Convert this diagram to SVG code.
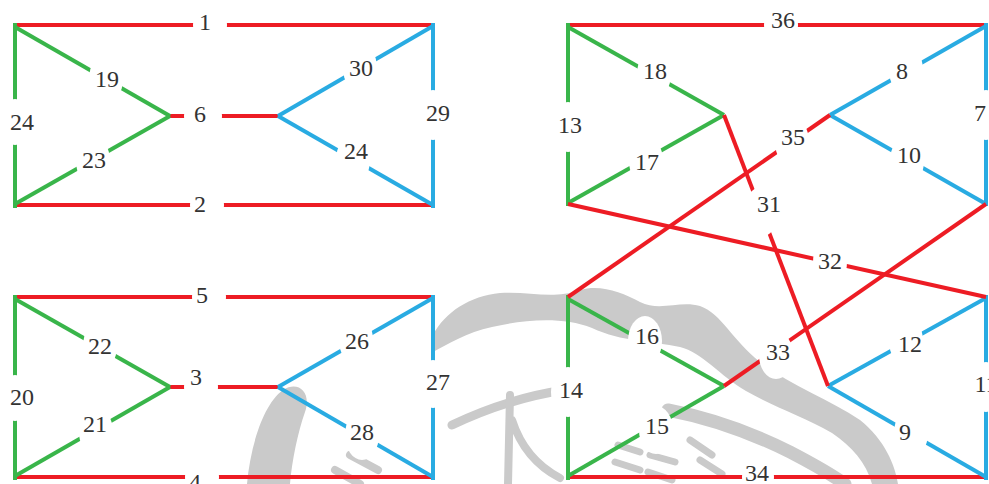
<svg xmlns="http://www.w3.org/2000/svg" width="989" height="484" viewBox="0 0 989 484">
<style>
.r{stroke:#ED1C24;stroke-width:4;fill:none}
.g{stroke:#39B54A;stroke-width:4;fill:none}
.b{stroke:#29ABE2;stroke-width:4;fill:none}
.wm{stroke:#cacaca;fill:none;stroke-linecap:round}
.wf{fill:#cacaca;stroke:none}
.lb ellipse{fill:#fff}
.lb text{font-family:"Liberation Serif","DejaVu Serif",serif;font-size:24px;fill:#333;text-anchor:middle}
</style>
<rect width="989" height="484" fill="#fff"/>
<g id="watermark">
<path class="wf" d="M247 484 C250 450 262 405 283 390 C298 380 312 392 305 412 C298 432 292 460 290 484 Z"/>
<path class="wf" d="M433 335 C445 312 470 296 500 293 C530 291 552 300 580 290 C600 284 622 292 640 302 C660 312 680 300 700 306 C722 314 732 340 760 362 C790 385 830 400 860 420 C885 440 895 465 898 484 L872 484 C866 462 852 447 832 433 C802 416 772 406 746 391 C720 376 702 352 680 347 C652 341 622 342 592 328 C562 316 522 320 492 327 C467 332 447 345 433 352 Z"/>
<path class="wm" stroke-width="9" d="M452 425 C490 407 530 395 565 390"/>
<path class="wm" stroke-width="13" d="M668 410 C710 418 750 432 790 452 C815 465 832 475 845 484"/>
<path class="wm" stroke-width="8" d="M510 395 L508 484 M512 420 C520 445 535 465 560 478"/>
<path class="wm" stroke-width="8" d="M335 470 L360 484 M350 455 L378 470"/>
<path class="wm" stroke-width="7" d="M618 445 L640 452 M615 462 L640 470 M650 455 L675 462 M648 472 L672 480 M690 440 L712 455 M700 460 L722 474"/>
</g>
<g id="connectors">
<line class="r" x1="15" y1="25" x2="433" y2="25"/>
<line class="r" x1="15" y1="205" x2="433" y2="205"/>
<line class="r" x1="170" y1="116" x2="278" y2="116"/>
<line class="g" x1="15" y1="23" x2="15" y2="208"/>
<line class="g" x1="15" y1="27" x2="170" y2="116"/>
<line class="g" x1="15" y1="204" x2="170" y2="116"/>
<line class="b" x1="278" y1="116" x2="433" y2="26"/>
<line class="b" x1="278" y1="116" x2="433" y2="205"/>
<line class="b" x1="433" y1="23" x2="433" y2="208"/>

<line class="r" x1="15" y1="297" x2="433" y2="297"/>
<line class="r" x1="15" y1="477" x2="433" y2="477"/>
<line class="r" x1="170" y1="387" x2="278" y2="387"/>
<line class="g" x1="15" y1="295" x2="15" y2="480"/>
<line class="g" x1="15" y1="299" x2="170" y2="387"/>
<line class="g" x1="15" y1="476" x2="170" y2="387"/>
<line class="b" x1="278" y1="387" x2="433" y2="298"/>
<line class="b" x1="278" y1="387" x2="433" y2="477"/>
<line class="b" x1="433" y1="295" x2="433" y2="480"/>

<line class="r" x1="568" y1="25" x2="986" y2="25"/>
<line class="g" x1="568" y1="23" x2="568" y2="206"/>
<line class="g" x1="568" y1="27" x2="724" y2="115"/>
<line class="g" x1="568" y1="203" x2="724" y2="115"/>
<line class="b" x1="830" y1="115" x2="986" y2="26"/>
<line class="b" x1="830" y1="115" x2="986" y2="204"/>
<line class="b" x1="986" y1="23" x2="986" y2="206"/>

<line class="r" x1="568" y1="477" x2="986" y2="477"/>
<line class="g" x1="568" y1="295" x2="568" y2="480"/>
<line class="g" x1="568" y1="299" x2="724" y2="386"/>
<line class="g" x1="568" y1="476" x2="724" y2="386"/>
<line class="b" x1="828" y1="386" x2="986" y2="298"/>
<line class="b" x1="828" y1="386" x2="986" y2="477"/>
<line class="b" x1="986" y1="295" x2="986" y2="480"/>

<line class="r" x1="724" y1="115" x2="828" y2="386"/>
<line class="r" x1="568" y1="204" x2="986" y2="297"/>
<line class="r" x1="568" y1="297" x2="830" y2="115"/>
<line class="r" x1="724" y1="386" x2="986" y2="204"/>
</g>
<g id="labels" class="lb">
<g id="l1"><ellipse cx="210" cy="25" rx="17" ry="25"/><text x="205" y="30">1</text></g>
<g id="l2"><ellipse cx="207" cy="205" rx="17" ry="25"/><text x="200" y="212">2</text></g>
<g id="l6"><ellipse cx="203" cy="116" rx="19" ry="25"/><text x="200" y="122">6</text></g>
<g id="l19"><ellipse cx="106" cy="79" rx="17" ry="25"/><text x="107" y="87">19</text></g>
<g id="l23"><ellipse cx="93" cy="161" rx="17" ry="25"/><text x="94" y="168">23</text></g>
<g id="l24a"><ellipse cx="15" cy="122" rx="17" ry="23"/><text x="22" y="130">24</text></g>
<g id="l30"><ellipse cx="360" cy="68" rx="17" ry="25"/><text x="361" y="76">30</text></g>
<g id="l24b"><ellipse cx="353" cy="160" rx="17" ry="25"/><text x="356" y="159">24</text></g>
<g id="l29"><ellipse cx="433" cy="115" rx="17" ry="25"/><text x="438" y="121">29</text></g>

<g id="l5"><ellipse cx="209" cy="297" rx="17" ry="25"/><text x="202" y="303">5</text></g>
<g id="l3"><ellipse cx="201" cy="387" rx="17" ry="25"/><text x="196" y="385">3</text></g>
<g id="l4"><ellipse cx="202" cy="477" rx="17" ry="25"/><text x="195" y="490">4</text></g>
<g id="l22"><ellipse cx="100" cy="346" rx="17" ry="25"/><text x="100" y="354">22</text></g>
<g id="l21"><ellipse cx="96" cy="432" rx="17" ry="25"/><text x="95" y="432">21</text></g>
<g id="l20"><ellipse cx="15" cy="398" rx="17" ry="23"/><text x="22" y="405">20</text></g>
<g id="l26"><ellipse cx="356" cy="340" rx="17" ry="25"/><text x="357" y="349">26</text></g>
<g id="l28"><ellipse cx="362" cy="435" rx="17" ry="25"/><text x="362" y="440">28</text></g>
<g id="l27"><ellipse cx="433" cy="384" rx="17" ry="24"/><text x="438" y="390">27</text></g>

<g id="l36"><ellipse cx="781" cy="25" rx="17" ry="25"/><text x="783" y="28">36</text></g>
<g id="l13"><ellipse cx="568" cy="127" rx="17" ry="25"/><text x="570" y="133">13</text></g>
<g id="l18"><ellipse cx="654" cy="74" rx="17" ry="25"/><text x="655" y="79">18</text></g>
<g id="l17"><ellipse cx="646" cy="161" rx="17" ry="25"/><text x="647" y="170">17</text></g>
<g id="l31"><ellipse cx="761" cy="212" rx="17" ry="25"/><text x="769" y="212">31</text></g>
<g id="l35"><ellipse cx="792" cy="142" rx="17" ry="25"/><text x="793" y="145">35</text></g>
<g id="l8"><ellipse cx="906" cy="70" rx="17" ry="25"/><text x="902" y="79">8</text></g>
<g id="l10"><ellipse cx="907" cy="161" rx="17" ry="25"/><text x="909" y="163">10</text></g>
<g id="l7"><ellipse cx="986" cy="115" rx="17" ry="25"/><text x="980" y="121">7</text></g>
<g id="l32"><ellipse cx="830" cy="262" rx="17" ry="25"/><text x="830" y="269">32</text></g>

<g id="l16"><ellipse cx="645" cy="341" rx="17" ry="25"/><text x="647" y="344">16</text></g>
<g id="l15"><ellipse cx="656" cy="430" rx="17" ry="24"/><text x="657" y="434">15</text></g>
<g id="l14"><ellipse cx="568" cy="392" rx="17" ry="25"/><text x="571" y="398">14</text></g>
<g id="l33"><ellipse cx="776" cy="355" rx="17" ry="24"/><text x="778" y="360">33</text></g>
<g id="l34"><ellipse cx="758" cy="477" rx="16" ry="25"/><text x="757" y="481">34</text></g>
<g id="l12"><ellipse cx="906" cy="341" rx="17" ry="25"/><text x="910" y="352">12</text></g>
<g id="l9"><ellipse cx="911" cy="433" rx="17" ry="25"/><text x="905" y="440">9</text></g>
<g id="l11"><ellipse cx="986" cy="387" rx="17" ry="25"/><text x="986" y="392">11</text></g>
</g>
</svg>
